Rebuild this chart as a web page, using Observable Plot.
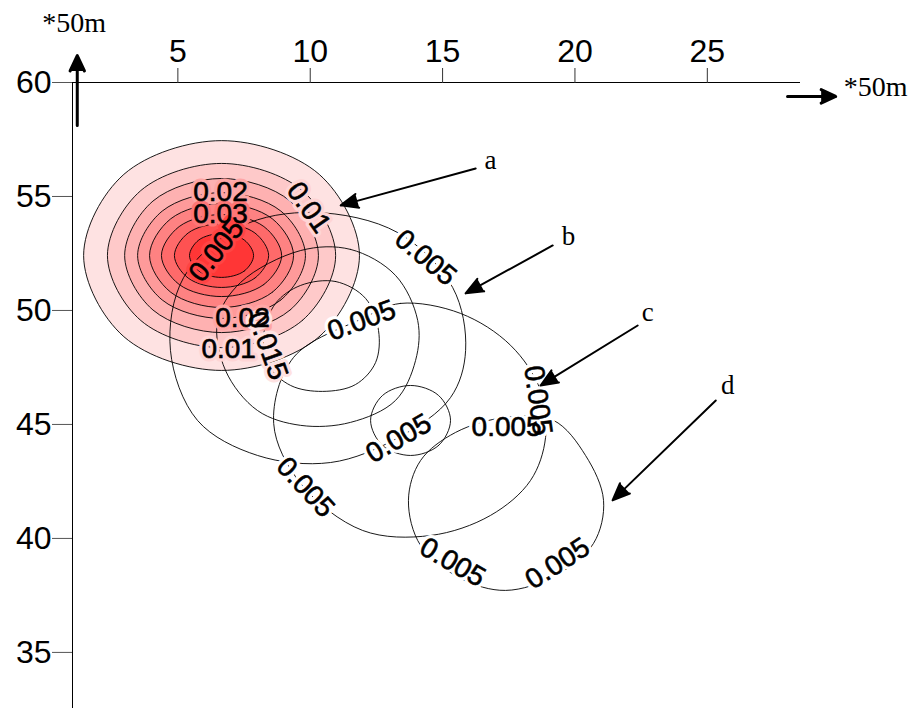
<!DOCTYPE html>
<html><head><meta charset="utf-8">
<script src="https://cdn.jsdelivr.net/npm/d3@7"></script>
<script src="https://cdn.jsdelivr.net/npm/@observablehq/plot@0.6"></script>
<style>body{margin:0;background:#fff;} #chart svg{display:block;}</style>
</head><body><div id="chart"></div>
<script>
// ---- axes (units of 50 m) ----
const xTicks = [5, 10, 15, 20, 25];
const yTicks = [35, 40, 45, 50, 55, 60];
const xExtent = [1.02, 28.52];
const yExtent = [32.54, 60];

// ---- plume a: filled contour levels and their outlines ([x, y]) ----
const aLevels = [0.005, 0.01, 0.015, 0.02, 0.025, 0.03, 0.035, 0.04];
const aRing1 = [[11.86,52.41],[10.34,48.85],[6.65,47.37],[2.96,48.85],[1.44,52.41],[2.96,55.97],[6.65,57.45],[10.34,55.97]];
const aRing2 = [[10.96,52.41],[9.70,49.56],[6.65,48.37],[3.60,49.56],[2.34,52.41],[3.60,55.26],[6.65,56.45],[9.70,55.26]];
const aRing3 = [[10.31,52.41],[9.24,50.02],[6.65,49.03],[4.06,50.02],[2.99,52.41],[4.06,54.80],[6.65,55.79],[9.24,54.80]];
const aRing4 = [[9.82,52.41],[8.89,50.46],[6.65,49.65],[4.41,50.46],[3.48,52.41],[4.41,54.36],[6.65,55.17],[8.89,54.36]];
const aRing5 = [[9.37,52.41],[8.57,50.80],[6.65,50.13],[4.73,50.80],[3.93,52.41],[4.73,54.02],[6.65,54.69],[8.57,54.02]];
const aRing6 = [[8.92,52.41],[8.25,51.14],[6.65,50.61],[5.05,51.14],[4.38,52.41],[5.05,53.68],[6.65,54.21],[8.25,53.68]];
const aRing7 = [[8.43,52.41],[7.91,51.42],[6.65,51.01],[5.39,51.42],[4.87,52.41],[5.39,53.40],[6.65,53.81],[7.91,53.40]];
const aRing8 = [[7.86,52.41],[7.51,51.73],[6.65,51.45],[5.79,51.73],[5.44,52.41],[5.79,53.09],[6.65,53.37],[7.51,53.09]];

// ---- plume b: contours 0.005, 0.01, 0.015 ----
const bRing1 = [[10.13,54.30],[13.30,53.42],[15.38,51.01],[15.87,48.25],[15.30,46.18],[13.34,44.43],[10.77,43.33],[8.01,43.64],[5.74,45.18],[4.72,48.25],[5.22,51.45],[7.37,53.68]];
const bRing2 = [[9.64,52.63],[11.52,52.68],[13.22,51.54],[14.06,49.56],[13.98,47.81],[13.22,46.05],[11.52,45.09],[9.64,44.96],[8.01,45.61],[6.80,47.37],[6.50,49.56],[7.37,51.23]];
const bRing3 = [[9.64,51.10],[10.96,51.27],[12.09,50.53],[12.58,49.12],[12.47,47.72],[11.71,46.75],[10.47,46.45],[9.26,46.71],[8.43,47.59],[8.24,48.90],[8.69,50.31]];

// ---- plume c: contours ----
const cRing1 = [[11.98,49.65],[13.41,50.31],[15.68,49.87],[17.57,48.47],[18.70,46.49],[18.89,44.43],[18.32,42.54],[16.81,41.01],[14.55,40.13],[11.98,40.35],[9.64,42.41],[8.62,45.04],[9.37,47.94]];
const cRing2 = [[15.30,45.18],[14.85,44.08],[13.79,43.64],[12.73,44.08],[12.28,45.18],[12.73,46.27],[13.79,46.71],[14.85,46.27]];

// ---- plume d: contour ----
const dRing1 = [[17.38,45.31],[19.19,45.18],[20.40,43.64],[21.08,41.67],[20.70,39.78],[19.27,38.38],[17.38,37.72],[15.68,38.25],[14.17,39.69],[13.71,41.67],[14.17,43.42],[15.49,44.65]];

// ---- contour labels ----
const labelText = ["0.01","0.02","0.03","0.02","0.01","0.005","0.005","0.005","0.015","0.005","0.005","0.005","0.005","0.005","0.005"];
const labelX    = [9.94, 6.61, 6.61, 7.44, 6.92, 6.46, 14.36, 13.34, 8.39, 17.42, 15.38, 19.34, 11.94, 18.60, 9.82];
const labelY    = [54.52,55.18,54.21,49.65,48.33,52.63,52.32, 44.39, 48.46,44.87, 38.95, 38.90, 49.56, 46.05, 42.24];

// ---- plume annotations ----
const plumeNames = ["a", "b", "c", "d"];
const nameX = [16.81, 19.76, 22.75, 25.77];
const nameY = [56.58, 53.25, 49.91, 46.71];
const arrowFromX = [16.25, 19.16, 22.37, 25.32];
const arrowFromY = [56.23, 52.85, 49.34, 46.05];
const arrowToX = [11.15, 15.87, 18.70, 21.42];
const arrowToY = [54.61, 50.75, 46.71, 41.67];

// ---- axis unit annotations ----
const unitText = ["*50m", "*50m"];
const unitX = [1.08, 31.36];
const unitY = [62.63, 59.82];
const axisArrowFromX = [1.20, 28.03];
const axisArrowFromY = [58.11, 59.39];
const axisArrowToX = [1.20, 29.85];
const axisArrowToY = [61.18, 59.39];

// ---- styles (kept apart from data) ----
const aFill = ["#fee2e2","#fec9c9","#feb1b1","#fe9a9a","#fe8282","#fe6a6a","#fe5252","#ff3636"];
const labelAngle = [55, 0, 0, 0, 0, -52, 40, -30, 70, 0, 30, -33, -20, 82, 47];
const labelHalo = ["#fed5d5","#fea6a6","#fe7676","#fea6a6","#fed5d5","#ff4444","#fff","#fff","#fee2e2","#fff","#fff","#fff","#fff","#fff","#fff"];
const SANS = "'Liberation Sans', Arial, sans-serif";
const SERIF = "'Liberation Serif', 'Times New Roman', serif";

const labels = labelText.map((t, i) => ({t, x: labelX[i], y: labelY[i], a: labelAngle[i], h: labelHalo[i]}));
const names = plumeNames.map((t, i) => ({t, x: nameX[i], y: nameY[i], x1: arrowFromX[i], y1: arrowFromY[i], x2: arrowToX[i], y2: arrowToY[i]}));
const units = unitText.map((t, i) => ({t, x: unitX[i], y: unitY[i], x1: axisArrowFromX[i], y1: axisArrowFromY[i], x2: axisArrowToX[i], y2: axisArrowToY[i]}));

const ring = {x: d => d[0], y: d => d[1], curve: "catmull-rom-closed", stroke: "black", strokeWidth: 0.9};
const aRings = [aRing1, aRing2, aRing3, aRing4, aRing5, aRing6, aRing7, aRing8];
const labelFont = {x: "x", y: "y", text: "t", rotate: "a", fontSize: 28, fontFamily: SANS};

const chart = Plot.plot({
  width: 910, height: 708,
  marginTop: 82, marginLeft: 72, marginRight: 110, marginBottom: 0,
  style: {fontFamily: SANS, background: "#fff", overflow: "visible"},
  x: {domain: xExtent},
  y: {domain: yExtent},
  color: {type: "identity"},
  marks: [
    ...aRings.map((r, i) => Plot.line(r, {...ring, fill: aFill[i]})),
    ...[bRing1, bRing2, bRing3, cRing1, cRing2, dRing1].map(r => Plot.line(r, ring)),
    Plot.ruleY([yExtent[1]], {stroke: "black", strokeWidth: 1}),
    Plot.ruleX([xExtent[0]], {stroke: "black", strokeWidth: 1}),
    Plot.axisX({anchor: "top", ticks: xTicks, tickSize: 15, tickPadding: 6, fontSize: 32, label: null, stroke: "#333", fill: "black"}),
    Plot.axisY({anchor: "left", ticks: yTicks, tickSize: 20, tickPadding: 1, fontSize: 32, label: null, stroke: "#555", fill: "black"}),
    Plot.text(labels, {...labelFont, stroke: "h", strokeWidth: 7, fill: "h"}),
    Plot.text(labels, {...labelFont, fill: "black", stroke: "black", strokeWidth: 0.6}),
    Plot.arrow(names, {x1: "x1", y1: "y1", x2: "x2", y2: "y2", stroke: "black", fill: "black", strokeWidth: 2, headAngle: 45, headLength: 14, strokeLinejoin: "miter"}),
    Plot.text(names, {x: "x", y: "y", text: "t", fontSize: 27, fontFamily: SERIF, fill: "black"}),
    Plot.arrow(units, {x1: "x1", y1: "y1", x2: "x2", y2: "y2", stroke: "black", fill: "black", strokeWidth: 3, headAngle: 50, headLength: 8.5, strokeLinejoin: "miter"}),
    Plot.text(units, {x: "x", y: "y", text: "t", fontSize: 28, fontFamily: SERIF, fill: "black"})
  ]
});
document.getElementById("chart").appendChild(chart);
</script>
</body></html>
